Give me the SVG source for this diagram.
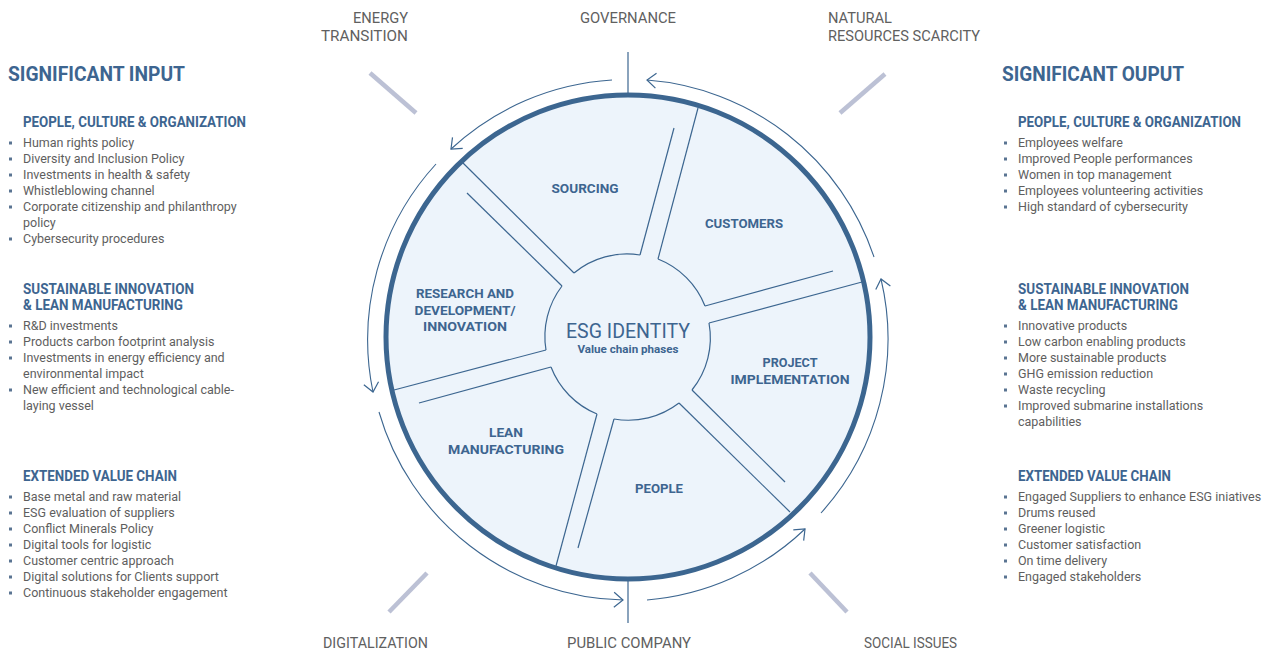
<svg xmlns="http://www.w3.org/2000/svg" width="1274" height="655" viewBox="0 0 1274 655">
<style>
text{font-family:Roboto,"Liberation Sans",sans-serif}
.h1{font-size:20px;font-weight:bold;fill:#3d6590}
.h2{font-size:14px;font-weight:bold;fill:#3d6590}
.li{font-size:12.5px;fill:#5e5e5e}
.out{font-size:15.5px;fill:#606060}
.seg{font-size:13.5px;font-weight:bold;fill:#3d6590;text-anchor:middle}
.bar{stroke:#bcc1d5;stroke-width:4.5}
.thin{stroke:#3c6690;stroke-width:1.2;fill:none}
.ring{stroke:#3c6690;stroke-width:1.1;fill:none;marker-end:url(#arr)}
.b{fill:#5a7492}
</style>
<defs>
<marker id="arr" markerUnits="userSpaceOnUse" markerWidth="12" markerHeight="17" viewBox="0 0 12 17" refX="10" refY="8.5" orient="auto">
<path d="M1,1 L10,8.5 L1,16" fill="none" stroke="#3c6690" stroke-width="1.2"/>
</marker>
</defs>
<rect width="1274" height="655" fill="#ffffff"/>

<g id="outer-labels">
<text class="out" x="408" y="23" text-anchor="end" textLength="55" lengthAdjust="spacingAndGlyphs">ENERGY</text>
<text class="out" x="408" y="41" text-anchor="end" textLength="87" lengthAdjust="spacingAndGlyphs">TRANSITION</text>
<text class="out" x="580" y="23" textLength="96" lengthAdjust="spacingAndGlyphs">GOVERNANCE</text>
<text class="out" x="828" y="23" textLength="64" lengthAdjust="spacingAndGlyphs">NATURAL</text>
<text class="out" x="828" y="41" textLength="152" lengthAdjust="spacingAndGlyphs">RESOURCES SCARCITY</text>
<text class="out" x="323" y="648" textLength="105" lengthAdjust="spacingAndGlyphs">DIGITALIZATION</text>
<text class="out" x="567" y="648" textLength="124" lengthAdjust="spacingAndGlyphs">PUBLIC COMPANY</text>
<text class="out" x="864" y="648" textLength="93" lengthAdjust="spacingAndGlyphs">SOCIAL ISSUES</text>
<line class="bar" x1="370" y1="73" x2="416" y2="113"/>
<line class="bar" x1="885" y1="74" x2="840" y2="113"/>
<line class="bar" x1="427" y1="573" x2="389" y2="612"/>
<line class="bar" x1="810" y1="573" x2="847" y2="612"/>
<line class="thin" x1="628" y1="52" x2="628" y2="94"/>
<line class="thin" x1="628" y1="580" x2="628" y2="623"/>
</g>

<g id="wheel">
<circle cx="628" cy="337" r="242" fill="#edf4fb" stroke="#3c6690" stroke-width="5"/>
</g>

<g id="dividers" class="thin">
<line x1="640" y1="255" x2="674" y2="128"/>
<line x1="658" y1="259" x2="698" y2="108"/>
<line x1="705" y1="306" x2="833" y2="271"/>
<line x1="709" y1="323" x2="862" y2="282"/>
<line x1="692" y1="390" x2="785" y2="482"/>
<line x1="679" y1="403" x2="790" y2="512"/>
<line x1="614" y1="419" x2="578" y2="548"/>
<line x1="597" y1="414" x2="556" y2="566"/>
<line x1="551" y1="367" x2="419" y2="403"/>
<line x1="546" y1="350" x2="394" y2="390"/>
<line x1="562" y1="286" x2="467" y2="193"/>
<line x1="574" y1="273" x2="463" y2="163"/>
</g>

<g id="seg-sourcing">
<path class="thin" d="M574,273 A83,83 0 0 1 640,255"/>
<text class="seg" x="585" y="193" textLength="67" lengthAdjust="spacingAndGlyphs">SOURCING</text>
</g>
<g id="seg-customers">
<path class="thin" d="M658,259 A83,83 0 0 1 705,306"/>
<text class="seg" x="744" y="228" textLength="78" lengthAdjust="spacingAndGlyphs">CUSTOMERS</text>
</g>
<g id="seg-project">
<path class="thin" d="M709,323 A83,83 0 0 1 692,390"/>
<text class="seg" x="790" y="367" textLength="55" lengthAdjust="spacingAndGlyphs">PROJECT</text>
<text class="seg" x="790" y="384" textLength="119" lengthAdjust="spacingAndGlyphs">IMPLEMENTATION</text>
</g>
<g id="seg-people">
<path class="thin" d="M679,403 A83,83 0 0 1 614,419"/>
<text class="seg" x="659" y="493" textLength="48" lengthAdjust="spacingAndGlyphs">PEOPLE</text>
</g>
<g id="seg-lean">
<path class="thin" d="M597,414 A83,83 0 0 1 551,367"/>
<text class="seg" x="506" y="437" textLength="34" lengthAdjust="spacingAndGlyphs">LEAN</text>
<text class="seg" x="506" y="454" textLength="116" lengthAdjust="spacingAndGlyphs">MANUFACTURING</text>
</g>
<g id="seg-rnd">
<path class="thin" d="M546,350 A83,83 0 0 1 562,286"/>
<text class="seg" x="465" y="298" textLength="98" lengthAdjust="spacingAndGlyphs">RESEARCH AND</text>
<text class="seg" x="465" y="315" textLength="101" lengthAdjust="spacingAndGlyphs">DEVELOPMENT/</text>
<text class="seg" x="465" y="331" textLength="84" lengthAdjust="spacingAndGlyphs">INNOVATION</text>
</g>
<g id="center">
<text x="628" y="338" text-anchor="middle" font-size="21" fill="#3d6590" textLength="124" lengthAdjust="spacingAndGlyphs">ESG IDENTITY</text>
<text x="628" y="353" text-anchor="middle" font-size="11.5" font-weight="bold" fill="#3d6590" textLength="101" lengthAdjust="spacingAndGlyphs">Value chain phases</text>
</g>

<g id="connectors">
<path class="ring" d="M874,257 A260,260 0 0 0 647,80"/>
<path class="ring" d="M612,80 A260,260 0 0 0 451,149"/>
<path class="ring" d="M436,164 A260,260 0 0 0 373,392"/>
<path class="ring" d="M379,412 A260,260 0 0 0 623,600"/>
<path class="ring" d="M647,600 A260,260 0 0 0 805,529"/>
<path class="ring" d="M821,513 A260,260 0 0 0 881,279"/>
</g>

<g id="input-panel">
<text class="h1" x="8" y="81" textLength="177" lengthAdjust="spacingAndGlyphs">SIGNIFICANT INPUT</text>
<text class="h2" x="23" y="127" textLength="223" lengthAdjust="spacingAndGlyphs">PEOPLE, CULTURE &amp; ORGANIZATION</text>
<g class="b">
<rect x="9" y="141.5" width="3" height="3"/><rect x="9" y="157.5" width="3" height="3"/><rect x="9" y="173.5" width="3" height="3"/><rect x="9" y="189.5" width="3" height="3"/><rect x="9" y="205.5" width="3" height="3"/><rect x="9" y="237.5" width="3" height="3"/>
<rect x="9" y="324.5" width="3" height="3"/><rect x="9" y="340.5" width="3" height="3"/><rect x="9" y="356.5" width="3" height="3"/><rect x="9" y="388.5" width="3" height="3"/>
<rect x="9" y="495.5" width="3" height="3"/><rect x="9" y="511.5" width="3" height="3"/><rect x="9" y="527.5" width="3" height="3"/><rect x="9" y="543.5" width="3" height="3"/><rect x="9" y="559.5" width="3" height="3"/><rect x="9" y="575.5" width="3" height="3"/><rect x="9" y="591.5" width="3" height="3"/>
</g>
<text class="li" x="23" y="147">Human rights policy</text>
<text class="li" x="23" y="163">Diversity and Inclusion Policy</text>
<text class="li" x="23" y="179">Investments in health &amp; safety</text>
<text class="li" x="23" y="195">Whistleblowing channel</text>
<text class="li" x="23" y="211">Corporate citizenship and philanthropy</text>
<text class="li" x="23" y="227">policy</text>
<text class="li" x="23" y="243">Cybersecurity procedures</text>
<text class="h2" x="23" y="294" textLength="171" lengthAdjust="spacingAndGlyphs">SUSTAINABLE INNOVATION</text>
<text class="h2" x="23" y="310" textLength="160" lengthAdjust="spacingAndGlyphs">&amp; LEAN MANUFACTURING</text>
<text class="li" x="23" y="330">R&amp;D investments</text>
<text class="li" x="23" y="346">Products carbon footprint analysis</text>
<text class="li" x="23" y="362">Investments in energy efficiency and</text>
<text class="li" x="23" y="378">environmental impact</text>
<text class="li" x="23" y="394">New efficient and technological cable-</text>
<text class="li" x="23" y="410">laying vessel</text>
<text class="h2" x="23" y="481" textLength="154" lengthAdjust="spacingAndGlyphs">EXTENDED VALUE CHAIN</text>
<text class="li" x="23" y="501">Base metal and raw material</text>
<text class="li" x="23" y="517">ESG evaluation of suppliers</text>
<text class="li" x="23" y="533">Conflict Minerals Policy</text>
<text class="li" x="23" y="549">Digital tools for logistic</text>
<text class="li" x="23" y="565">Customer centric approach</text>
<text class="li" x="23" y="581">Digital solutions for Clients support</text>
<text class="li" x="23" y="597">Continuous stakeholder engagement</text>
</g>

<g id="output-panel">
<text class="h1" x="1002" y="81" textLength="182" lengthAdjust="spacingAndGlyphs">SIGNIFICANT OUPUT</text>
<text class="h2" x="1018" y="127" textLength="223" lengthAdjust="spacingAndGlyphs">PEOPLE, CULTURE &amp; ORGANIZATION</text>
<g class="b">
<rect x="1004" y="141.5" width="3" height="3"/><rect x="1004" y="157.5" width="3" height="3"/><rect x="1004" y="173.5" width="3" height="3"/><rect x="1004" y="189.5" width="3" height="3"/><rect x="1004" y="205.5" width="3" height="3"/>
<rect x="1004" y="324.5" width="3" height="3"/><rect x="1004" y="340.5" width="3" height="3"/><rect x="1004" y="356.5" width="3" height="3"/><rect x="1004" y="372.5" width="3" height="3"/><rect x="1004" y="388.5" width="3" height="3"/><rect x="1004" y="404.5" width="3" height="3"/>
<rect x="1004" y="495.5" width="3" height="3"/><rect x="1004" y="511.5" width="3" height="3"/><rect x="1004" y="527.5" width="3" height="3"/><rect x="1004" y="543.5" width="3" height="3"/><rect x="1004" y="559.5" width="3" height="3"/><rect x="1004" y="575.5" width="3" height="3"/>
</g>
<text class="li" x="1018" y="147">Employees welfare</text>
<text class="li" x="1018" y="163">Improved People performances</text>
<text class="li" x="1018" y="179">Women in top management</text>
<text class="li" x="1018" y="195">Employees volunteering activities</text>
<text class="li" x="1018" y="211">High standard of cybersecurity</text>
<text class="h2" x="1018" y="294" textLength="171" lengthAdjust="spacingAndGlyphs">SUSTAINABLE INNOVATION</text>
<text class="h2" x="1018" y="310" textLength="160" lengthAdjust="spacingAndGlyphs">&amp; LEAN MANUFACTURING</text>
<text class="li" x="1018" y="330">Innovative products</text>
<text class="li" x="1018" y="346">Low carbon enabling products</text>
<text class="li" x="1018" y="362">More sustainable products</text>
<text class="li" x="1018" y="378">GHG emission reduction</text>
<text class="li" x="1018" y="394">Waste recycling</text>
<text class="li" x="1018" y="410">Improved submarine installations</text>
<text class="li" x="1018" y="426">capabilities</text>
<text class="h2" x="1018" y="481" textLength="153" lengthAdjust="spacingAndGlyphs">EXTENDED VALUE CHAIN</text>
<text class="li" x="1018" y="501">Engaged Suppliers to enhance ESG iniatives</text>
<text class="li" x="1018" y="517">Drums reused</text>
<text class="li" x="1018" y="533">Greener logistic</text>
<text class="li" x="1018" y="549">Customer satisfaction</text>
<text class="li" x="1018" y="565">On time delivery</text>
<text class="li" x="1018" y="581">Engaged stakeholders</text>
</g>
</svg>
